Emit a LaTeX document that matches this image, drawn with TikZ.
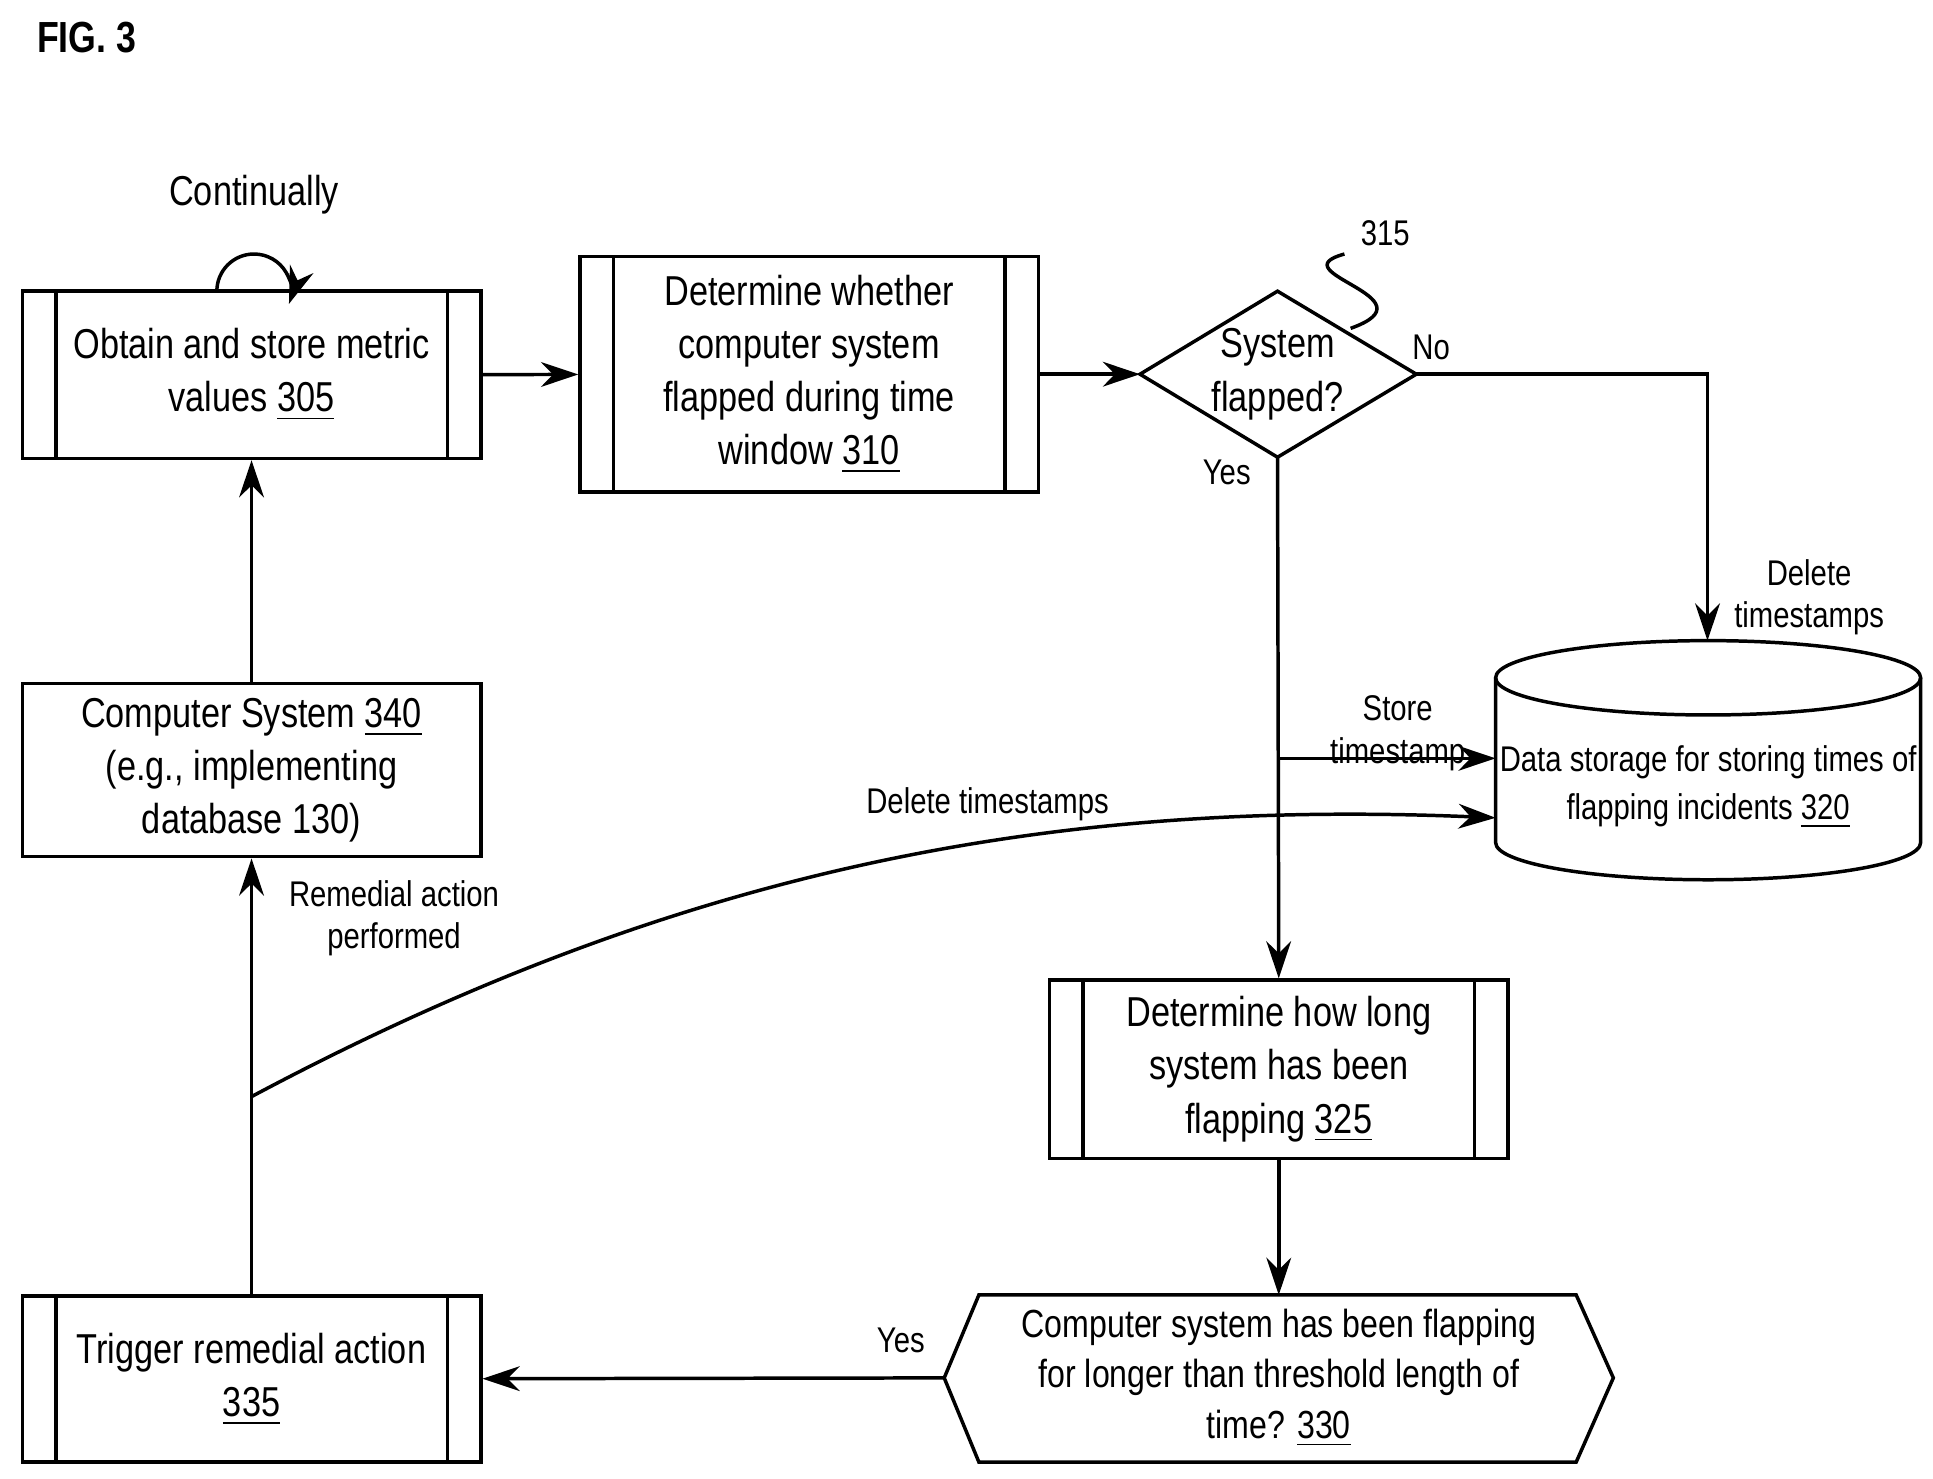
\documentclass[tikz,border=0pt]{standalone}
\usepackage{fontspec}
\setmainfont{Liberation Sans}[FakeStretch=0.82]
\usetikzlibrary{shapes.geometric,arrows.meta,calc}
\tikzset{
  box/.style={draw,thick,align=center,font=\fontsize{9.6}{12.2}\selectfont},
  proc/.style={box,path picture={
      \draw[thick] ([xshift=0.27cm]path picture bounding box.north west) -- ([xshift=0.27cm]path picture bounding box.south west);
      \draw[thick] ([xshift=-0.27cm]path picture bounding box.north east) -- ([xshift=-0.27cm]path picture bounding box.south east);}},
  lbl/.style={font=\fontsize{8.2}{9.8}\selectfont,align=center},
  arr/.style={thick,-{Stealth[length=3mm,width=2mm]}},
}
\begin{document}
\begin{tikzpicture}
    \useasboundingbox (0,0) rectangle (15.6,-11.93);
    \node[font=\bfseries\fontsize{10}{12}\selectfont] at (0.7,-0.3) {FIG. 3};

    % boxes
    \node[proc,minimum width=3.7cm,minimum height=1.35cm] (obtain) at (2.03,-3.025) {Obtain and store metric\\values \underline{305}};
    \node[proc,minimum width=3.7cm,minimum height=1.9cm] (flap) at (6.53,-3.02) {Determine whether\\computer system\\flapped during time\\window \underline{310}};
    \node[box,draw=none,inner sep=0pt] (dec) at (10.31,-3.02) {System\\flapped?};
    \draw[thick] (9.2,-3.02) -- (10.31,-2.35) -- (11.43,-3.02) -- (10.31,-3.69) -- cycle;
    \coordinate (decE) at (11.43,-3.02);
    \coordinate (decS) at (10.31,-3.69);
    \coordinate (decW) at (9.2,-3.02);
    \node[proc,minimum width=3.7cm,minimum height=1.44cm] (howlong) at (10.32,-8.63) {Determine how long\\system has been\\flapping \underline{325}};
    \node[box,draw=none,font=\fontsize{9}{11.6}\selectfont] (thr) at (10.32,-11.12) {Computer system has been flapping\\for longer than threshold length of\\time? \underline{330}};
    \draw[thick] (7.62,-11.12) -- (7.9,-10.45) -- (12.72,-10.45) -- (13.02,-11.12) -- (12.72,-11.8) -- (7.9,-11.8) -- cycle;
    \coordinate (thrW) at (7.62,-11.12);
    \coordinate (thrN) at (10.32,-10.45);
    \node[proc,minimum width=3.7cm,minimum height=1.34cm] (trig) at (2.03,-11.13) {Trigger remedial action\\\underline{335}};
    \node[box,minimum width=3.7cm,minimum height=1.37cm] (cs) at (2.03,-6.215) {Computer System \underline{340}\\(e.g., implementing\\database 130)};

    % data storage
    \draw[thick] (12.07,-5.47) -- (12.07,-6.8) arc[start angle=180,end angle=360,x radius=1.715cm,y radius=0.3cm] -- (15.5,-5.47);
    \draw[thick] (13.785,-5.47) ellipse[x radius=1.715cm,y radius=0.3cm];
    \node[lbl,font=\fontsize{8.2}{11}\selectfont] (store) at (13.785,-6.35) {Data storage for storing times of\\flapping incidents \underline{320}};
    \coordinate (storeTop) at (13.78,-5.17);
    \coordinate (storeW) at (12.07,-6.12);
    \coordinate (storeW2) at (12.07,-6.6);

    % connectors
    \draw[arr] (obtain) -- (flap);
    \draw[arr] (flap) -- (decW);
    \draw[arr] (decE) -- (13.78,-3.02) -- (storeTop);
    \draw[arr] (decS) -- (howlong.north);
    \draw[arr] (10.31,-6.12) -- (storeW);
    \draw[arr] (howlong) -- (thrN);
    \draw[arr] (thrW) -- (trig);
    \draw[arr] (trig) -- (cs);
    \draw[arr] (cs) -- (obtain);
    \draw[arr] (2.03,-8.85) .. controls (5.5,-7.0) and (8.5,-6.45) .. (storeW2);
    \draw[thick,-{Stealth[length=3mm,width=2mm]}] (1.75,-2.35) arc[start angle=180,end angle=-20,radius=0.3cm];

    % labels
    \node[lbl,font=\fontsize{9.6}{12}\selectfont] at (2.05,-1.57) {Continually};
    \node[lbl] at (11.18,-1.88) {315};
    \draw[thick] (10.85,-2.05) .. controls (10.3,-2.2) and (11.6,-2.4) .. (10.9,-2.65);
    \node[lbl] at (11.55,-2.8) {No};
    \node[lbl] at (9.9,-3.81) {Yes};
    \node[lbl] at (14.6,-4.82) {Delete\\timestamps};
    \node[lbl] at (11.28,-5.92) {Store\\timestamp};
    \node[lbl] at (7.97,-6.49) {Delete timestamps};
    \node[lbl] at (3.18,-7.41) {Remedial action\\performed};
    \node[lbl] at (7.27,-10.82) {Yes};
\end{tikzpicture}
\end{document}
